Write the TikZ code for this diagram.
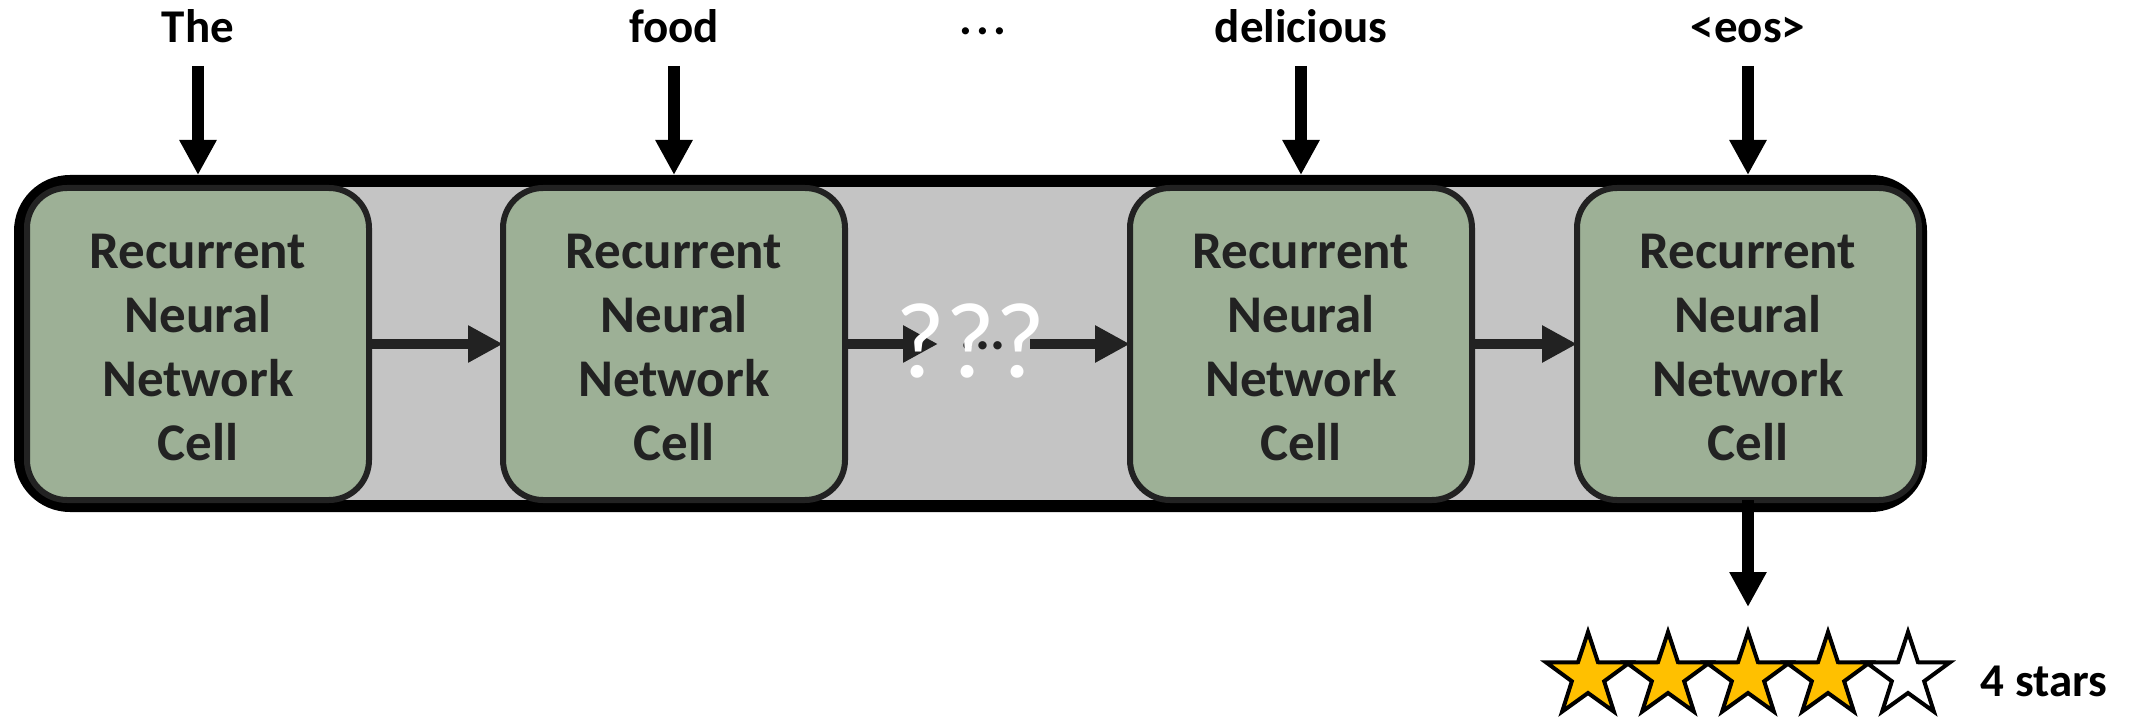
\documentclass[tikz,border=0pt]{standalone}
\usepackage{fontspec}
\setmainfont{Carlito}
\usetikzlibrary{arrows.meta}
\definecolor{cellgreen}{HTML}{9DB096}
\definecolor{boxgray}{HTML}{C4C4C4}
\definecolor{starfill}{HTML}{FFC000}
\definecolor{celltext}{HTML}{222222}
\newcommand{\celltxt}{\rule{0pt}{20.5pt}Recurrent\\Neural\\Network\\Cell}
\begin{document}
\begin{tikzpicture}[x=0.5pt,y=-0.5pt,
  frame/.style={draw=black, line width=6pt, fill=boxgray, rounded corners=25pt,
    minimum width=950.5pt, minimum height=162.5pt, inner sep=0pt, outer sep=0pt},
  cellbox/.style={draw=celltext, line width=3pt, fill=cellgreen, rounded corners=20pt,
    minimum width=171pt, minimum height=156pt, inner sep=0pt, outer sep=0pt,
    align=center, text=celltext, font=\bfseries\fontsize{26.5pt}{32pt}\selectfont},
  word/.style={font=\bfseries\fontsize{23.5pt}{28pt}\selectfont, anchor=base, inner sep=0pt, text=black},
  arr/.style={draw=black, line width=5.75pt, -{Triangle[length=17.5pt,width=17.5pt]}},
  harr/.style={draw=celltext, line width=5.25pt, -{Triangle[length=17.5pt,width=17.5pt]}},
  starline/.style={draw=black, line width=2pt, miter limit=10},
]
\useasboundingbox (0,0) rectangle (2136,721);

% frame
\node[frame] (box) at (970.5,343.5) {};

% cells
\node[cellbox] (c1) at (198,344) {\celltxt};
\node[cellbox] (c2) at (674,344) {\celltxt};
\node[cellbox] (c3) at (1301,344) {\celltxt};
\node[cellbox] (c4) at (1748,344) {\celltxt};

% top words
\node[word] (w1) at (198,43) {The};
\node[word, font=\bfseries\fontsize{24pt}{28pt}\selectfont] (w3) at (983,35) {.\kern1.9pt.\kern1.9pt.};
\node[word] (w2) at (674,43) {food};
\node[word] (w4) at (1301,43) {delicious};
\node[word] (w5) at (1748,43) {<eos>};

% input arrows
\draw[arr] ([yshift=-11.5pt]w1.base) -- ([yshift=6.5pt]c1.north);
\draw[arr] ([yshift=-11.5pt]w2.base) -- ([yshift=6.5pt]c2.north);
\draw[arr] ([yshift=-11.5pt]w4.base) -- ([yshift=6.5pt]c3.north);
\draw[arr] ([yshift=-11.5pt]w5.base) -- ([yshift=6.5pt]c4.north);

% recurrent arrows
\coordinate (q1) at (938,344);
\coordinate (q2) at (1030,344);
\draw[harr] (c1.east) -- (c2.west);
\draw[harr] (c2.east) -- (q1);
\node[word, font=\bfseries\fontsize{28pt}{30pt}\selectfont, text=celltext] (dots) at (983,350) {...};
\draw[harr] (q2) -- (c3.west);
\draw[harr] (c3.east) -- (c4.west);

% question marks
\node[font=\fontsize{54pt}{60pt}\selectfont, text=white, anchor=base, inner sep=0pt] (qm) at (971,378) {???};

% output arrow
\coordinate (out) at (1748,607);
\draw[arr] (c4.south) -- (out);

% stars
\foreach \i/\f in {0/starfill,1/starfill,2/starfill,3/starfill,4/white}{
  \draw[starline, fill=\f, shift={(1588+\i*80,676)}]
    (270:44) -- (306:17) -- (342:44) -- (18:17) -- (54:44) -- (90:17)
    -- (126:44) -- (162:17) -- (198:44) -- (234:17) -- cycle;
}
\node[word] (lbl) at (2044,696) {4 stars};
\end{tikzpicture}
\end{document}
